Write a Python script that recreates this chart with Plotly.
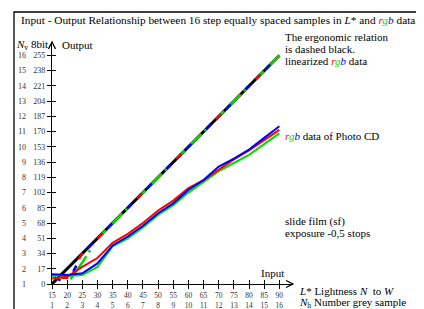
import math
import plotly.graph_objects as go

# ---------------- data ----------------
lightness = [15, 20, 25, 30, 35, 40, 45, 50, 55, 60, 65, 70, 75, 80, 85, 90]
grey_sample = [1, 2, 3, 4, 5, 6, 7, 8, 9, 10, 11, 12, 13, 14, 15, 16]
out_8bit = [0, 17, 34, 51, 68, 85, 102, 119, 136, 153, 170, 187, 204, 221, 238, 255]
out_nv = [1, 2, 3, 4, 5, 6, 7, 8, 9, 10, 11, 12, 13, 14, 15, 16]

# ergonomic (ideal) relation
ideal = [0, 17, 34, 51, 68, 85, 102, 119, 136, 153, 170, 187, 204, 221, 238, 255]

# linearized rgb data
lin_r = [7, 7, 34, 51, 68, 85, 102, 119, 136, 153, 170, 187, 204, 221, 238, 255]
lin_g = [10, 0, 24, 51, 68, 85, 102, 119, 136, 153, 170, 187, 204, 221, 238, 255]
lin_b = [9, 0, 34, 51, 68, 85, 102, 119, 136, 153, 170, 187, 204, 221, 238, 255]

# rgb data of Photo CD
pcd_r = [6, 8, 19, 29, 46, 56, 68, 82, 93, 107, 116, 128, 139, 149, 160, 172]
pcd_g = [10, 9, 10, 19, 42, 51, 63, 77, 88, 102, 114, 126, 135, 144, 156, 168]
pcd_b = [11, 10, 12, 23, 43, 53, 65, 79, 90, 105, 116, 131, 140, 150, 163, 176]

# ---------------- layout geometry (page has an 8px body margin) ----------------
OX, OY = 8, 8
W, H = 424 - OX, 309 - OY
PL, PR, PT, PB = 52, 293, 42, 284   # plot area in page pixels
ML, MR, MT, MB = PL - OX, W - (PR - OX), PT - OY, H - (PB - OY)
PW, PH = PR - PL, PB - PT
FONT = "Liberation Serif, Times New Roman, Times, serif"
RED, GREEN, BLUE = "#ff0000", "#00dd00", "#0000ff"
xr = [15, 94.5]
yr = [0, 270]
SX = PW / (xr[1] - xr[0])
SY = PH / (yr[1] - yr[0])


def px(x, y):
    return (x - PL) / PW, (PB - y) / PH


def path_len(xs, ys, upto):
    s = 0.0
    for i in range(upto):
        s += math.hypot((xs[i + 1] - xs[i]) * SX, (ys[i + 1] - ys[i]) * SY)
    return s


def dash_at(start, d=7, cyc=28):
    a = start % cyc
    if a <= cyc - d:
        return f"0px,{a:.2f}px,{d}px,{cyc - d - a:.2f}px"
    return f"{a - (cyc - d):.2f}px,{cyc - d:.2f}px,{cyc - a:.2f}px"


fig = go.Figure()

fig.add_trace(go.Scatter(x=lightness, y=ideal, mode="lines",
                         line=dict(color="black", width=3), hoverinfo="skip"))
join = 3  # index where the linearized curves meet the ideal line
for k, (vals, col) in enumerate([(lin_r, RED), (lin_g, GREEN), (lin_b, BLUE)]):
    s = path_len(lightness, vals, join)
    dash = dash_at(s + 7 * k)
    fig.add_trace(go.Scatter(x=lightness, y=vals, mode="lines",
                             line=dict(color=col, width=2.5, dash=dash), hoverinfo="skip"))
for vals, col in [(pcd_g, GREEN), (pcd_r, RED), (pcd_b, BLUE)]:
    fig.add_trace(go.Scatter(x=lightness, y=vals, mode="lines",
                             line=dict(color=col, width=2), hoverinfo="skip"))
# invisible trace for the overlay axes
fig.add_trace(go.Scatter(x=[None], y=[None], xaxis="x2", yaxis="y2", hoverinfo="skip"))

tickfont = dict(family=FONT, size=8, color="#333333")
xtickfont = dict(family=FONT, size=7.5, color="#333333")

fig.update_layout(
    width=W, height=H, showlegend=False,
    margin=dict(l=ML, r=MR, t=MT, b=MB, pad=0, autoexpand=False),
    paper_bgcolor="white", plot_bgcolor="white",
    font=dict(family=FONT, color="black"),
    xaxis=dict(range=xr, showgrid=False, zeroline=False, showline=True, automargin=False,
               linecolor="black", linewidth=1.3, ticks="outside", ticklen=4,
               tickcolor="black", tickwidth=1.2,
               tickvals=lightness,
               ticktext=[f"{a}<br>{b}" for a, b in zip(lightness, grey_sample)],
               tickfont=xtickfont, ticklabelstandoff=0),
    yaxis=dict(range=yr, showgrid=False, zeroline=False, showline=True, automargin=False,
               linecolor="black", linewidth=1.3, ticks="outside", ticklen=4,
               tickcolor="black", tickwidth=1.2,
               tickvals=out_8bit, ticktext=[str(v) for v in out_8bit],
               tickfont=tickfont),
    xaxis2=dict(range=xr, overlaying="x", anchor="y2", showgrid=False, zeroline=False,
                automargin=False,
                showline=False, ticks="inside", ticklen=4, tickcolor="black",
                tickwidth=1.2, tickvals=lightness, showticklabels=False),
    yaxis2=dict(range=yr, overlaying="y", anchor="x2", side="left", showgrid=False,
                automargin=False,
                zeroline=False, showline=False, ticks="inside", ticklen=4,
                tickcolor="black", tickwidth=1.2, tickvals=out_8bit,
                ticktext=[str(v) for v in out_nv], tickfont=tickfont,
                ticklabelstandoff=25),
)

shapes = []
# frame
x0, y0 = px(14, 12)
x1, y1 = px(420, 318)
shapes.append(dict(type="rect", xref="paper", yref="paper", x0=x0, y0=y1, x1=x1, y1=y0,
                   line=dict(color="black", width=1.3), fillcolor="rgba(0,0,0,0)"))
# arrow heads (chevrons)
def chevron(pts):
    p = [px(a, b) for a, b in pts]
    path = "M {} {} L {} {} L {} {}".format(p[0][0], p[0][1], p[1][0], p[1][1], p[2][0], p[2][1])
    return dict(type="path", xref="paper", yref="paper", path=path,
                line=dict(color="black", width=1.3))
shapes.append(chevron([(286, 280.5), (293, 284), (286, 287.5)]))
shapes.append(chevron([(48.5, 49), (52, 42), (55.5, 49)]))
fig.update_layout(shapes=shapes)

R = f"<span style='color:{RED}'><i>r</i></span>"
G = f"<span style='color:{GREEN}'><i>g</i></span>"
B = f"<span style='color:{BLUE}'><i>b</i></span>"
rgb = R + G + B

texts = [
    (19, 20, "left", 11.3, f"Input - Output Relationship between 16 step equally spaced samples in <i>L</i>* and {rgb} data"),
    (50, 45, "right", 11, "<i>N</i><sub>v</sub> 8bit"),
    (60, 45, "left", 11, "Output"),
    (283, 37, "left", 11, "The ergonomic relation"),
    (283, 49, "left", 11, "is dashed black."),
    (283, 61, "left", 11, f"linearized {rgb} data"),
    (283, 136, "left", 11, f"{rgb} data of Photo CD"),
    (283, 221, "left", 11, "slide film (sf)"),
    (283, 233, "left", 11, "exposure -0,5 stops"),
    (286, 273, "right", 11, "Input"),
    (297, 291, "left", 11, "<i>L</i>* Lightness <i>N</i>  to <i>W</i>"),
    (297, 302.5, "left", 11, "<i>N</i><sub>h</sub> Number grey sample"),
]
for x, y, anc, size, t in texts:
    xp, yp = px(x, y)
    fig.add_annotation(x=xp, y=yp, xref="paper", yref="paper", text=t, showarrow=False,
                       xanchor=anc, yanchor="middle", align="left",
                       font=dict(family=FONT, size=size, color="black"))

fig.write_html("out.html")
